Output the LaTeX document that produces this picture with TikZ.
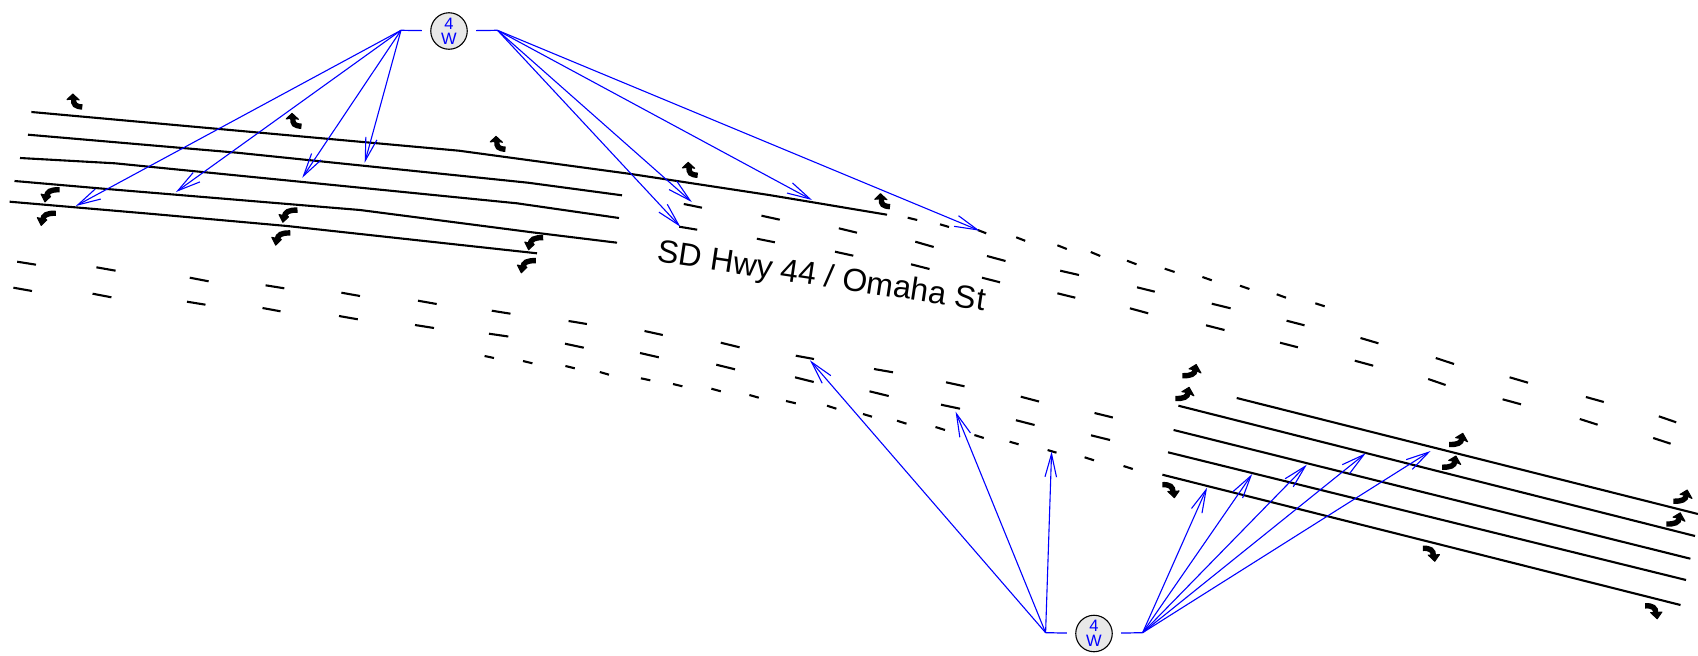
\documentclass[tikz,border=0pt]{standalone}
\usepackage{fontspec}
\setmainfont{Liberation Sans}
\usetikzlibrary{arrows.meta}
\tikzset{
  lane/.style={black,line width=2.1pt,line join=round},
  dashmark/.style={black,line width=2.1pt},
  shortmark/.style={black,line width=2.1pt},
  stub/.style={blue,line width=1.2pt,shorten >=8.3pt},
  ray/.style={blue,line width=1.1pt,-{Straight Barb[length=23pt,width=11.5pt,line width=1.1pt]}},
  signal/.style={circle,draw=black,line width=1.1pt,fill=black!9,minimum size=36.5pt,inner sep=0pt,text=blue,font=\fontsize{16.5}{15}\selectfont,align=center},
  headfill/.style={fill=black,draw=black,line width=1pt,line join=round},
  uup/.pic={
    \path[headfill] (-1.5,-8)--(-7.3,-2.4)--(-2.8,-2.8)--(2,-2.6)--(5,-2)--cycle;
    \draw[line width=5.4pt] (-0.6,-3.5) .. controls (-1.2,2.8) and (1,4.4) .. (8,5);
  },
  uleft/.pic={
    \path[headfill] (-5.3,7.6)--(-9.2,-0.2)--(-4,1)--(-1,1)--(0.3,2.2)--cycle;
    \draw[line width=5.4pt] (-4,2.5) .. controls (-3,-3) and (0,-4.6) .. (9.3,-4.6);
  },
  uright/.pic={
    \path[headfill] (4.4,-7.2)--(-2.8,-2.8)--(1,-2.2)--(4,-1.2)--(9.2,1.3)--cycle;
    \draw[line width=5.4pt] (3.4,-2) .. controls (3,2.6) and (-1,4.2) .. (-9.4,4);
  },
  udown/.pic={
    \path[headfill] (3.8,8)--(-2.8,1.8)--(1,1.6)--(4,1.6)--(8.5,1.2)--cycle;
    \draw[line width=5.4pt] (-8.2,-5) .. controls (-1,-5.4) and (2.6,-3) .. (2.4,2.5);
  }
}
\begin{document}
\begin{tikzpicture}[x=1pt,y=-1pt]
\useasboundingbox (0,0) rectangle (1698,656);

% lanes, left
\draw[lane] (31.4,112)--(459,150.7)--(631,174)--(769,195)--(887,214.7);
\draw[lane] (28,134.7)--(237,152.7)--(528,182.7)--(622,195.3);
\draw[lane] (20,158)--(115,163.3)--(517,203.3)--(619,218);
\draw[lane] (14.5,181)--(107,189)--(360,210)--(532,232.3)--(617,242.7);
\draw[lane] (9.6,201.7)--(153,214)--(287,226)--(537,253.3);
% lanes, right
\draw[lane] (1236.7,398)--(1697.9,514);
\draw[lane] (1178.4,405.7)--(1695,536);
\draw[lane] (1173.6,430)--(1690.4,558.7);
\draw[lane] (1168,452.3)--(1686,580);
\draw[lane] (1162.4,474.7)--(1680.5,605);

% long lane marks
\foreach \a/\b/\c/\d in {
17.2/261.7/36/264.7, 96.4/267.3/115.6/270.7, 189.8/277.7/208.6/281.3, 265.6/285.3/284.3/288.3,
341.4/292.7/360/296, 418/300.7/436.7/304, 491.8/310.7/510.5/313.7, 568.6/321/586.9/324,
644.5/331/662.8/335, 720.8/342.7/739.6/347.3, 795.8/355.7/814/359, 874/369/893/372.3,
946/382.3/964.5/386.3, 1020.8/396.7/1039/401.5, 1094.5/413/1112.8/417.5,
13.4/287.7/32/291, 92.6/293.7/111.4/297.3, 187/301.7/205.5/304.7, 262.5/308/280.5/311.3,
339/316/357.8/319.3, 415/325/434/328, 489/333.7/508.3/336.5, 565/343.7/583.8/347.7,
640/353/658.8/357.3, 716.3/364.7/735/369.3, 795/377.3/813.7/382, 869.5/391.3/888.7/396,
941/404.7/960/408.7, 1015.9/420.2/1034.6/425, 1091/435.3/1110/440,
683.8/204/702/207.7, 761.5/215.7/779.8/219.7, 838.8/228.3/857/232.7, 915.3/241.7/933.7/247,
987/256/1005.5/261, 1060.2/270.7/1079/275, 1137/287.3/1154.8/291.7, 1211.8/303.7/1230.6/308.3,
1286.6/320.7/1304.5/325.3, 1360.5/338/1378.4/343.3, 1435.8/358/1454/364, 1509.6/377.3/1528/382.7,
1585.9/397/1603.8/402, 1658.8/416.3/1676.2/422.3,
679.2/226.7/697.2/229.7, 756.9/238.7/774.9/242.3, 835/251.7/853.3/255.7, 911/264.3/929.5/269,
982/277.7/1000/282.3, 1057.4/293.3/1075.3/297.7, 1129.9/308.3/1148.2/313.3, 1206/325.3/1224.5/330,
1280/342.7/1297.9/347.3, 1354.8/360.7/1373.2/365.7, 1428.2/379/1445.6/385, 1502.6/399.3/1521/404.3,
1579.8/419/1597.6/424.7, 1653.2/438/1670.6/443.7}
  \draw[dashmark] (\a,\b)--(\c,\d);

% short lane marks
\foreach \a/\b/\c/\d in {
484.6/356/494/358, 523/361/532.4/363.3, 565.4/366/574.8/368.3, 599.8/372/609/374.7,
640.9/378.3/650.3/380.3, 673/384/682.4/386.3, 711.4/388.7/720.8/391.3, 749.4/395/758.8/397.7,
786/401/795.8/403.3, 827/405.7/836.4/408.7, 863/414/872/416.7, 897/420.7/906.5/423.7,
935.5/427/945/430, 974.4/435/983.8/438, 1009.6/441.7/1018.6/444.3, 1047.6/450/1056.5/452.7,
1084.6/457.3/1094/460.3, 1123.5/466/1132.8/469,
907.7/217.7/917.2/220, 940/224.3/949/227, 977.7/230/986.2/233.3, 1016.2/237.3/1025.2/240.8,
1057.4/245.3/1066.8/249, 1090.8/252/1100.2/256, 1127/260.7/1136.5/264.3, 1164.7/268.7/1174.6/272,
1202.4/277/1211.8/280.3, 1240/285.7/1249.4/289, 1276.7/294.3/1286/297.7, 1315.3/303.3/1324.7/306.3}
  \draw[shortmark] (\a,\b)--(\c,\d);

% U-turn marks
\foreach \p in {(74.3,102),(293.5,121.3),(497.5,144.3),(689.7,170.3),(882,201.7)}
  \pic at \p {uup};
\foreach \p in {(50.3,194.3),(46.5,217.8),(288.2,214.7),(281,237.5),(533.9,242.2),(526.6,265.2)}
  \pic at \p {uleft};
\foreach \p in {(1191.8,371.7),(1184.7,394.5),(1458.4,440.5),(1451.5,463.2),(1682.8,497.2),(1675.8,520)}
  \pic at \p {uright};
\foreach \p in {(1170.6,489.7),(1431,553.3),(1653.4,610.8)}
  \pic at \p {udown};

% label
\node[rotate=-8.5,font=\fontsize{32}{32}\selectfont,inner sep=0pt] (road) at (821.5,278) {SD Hwy 44 / Omaha St};

% signals
\node[signal] (sigN) at (449,31) {4\\W};
\node[signal] (sigS) at (1094,633.5) {4\\W};

% fan points
\coordinate (nw) at (401,30.3);
\coordinate (ne) at (497.5,30.3);
\coordinate (sw) at (1045.6,632.7);
\coordinate (se) at (1142.6,632.7);
\draw[stub] (nw)--(sigN);
\draw[stub] (ne)--(sigN);
\draw[stub] (sw)--(sigS);
\draw[stub] (se)--(sigS);

% rays
\foreach \n/\x/\y in {a/75.8/206,b/176/192,c/302.3/177.7,d/364.7/162.7} {
  \coordinate (t\n) at (\x,\y);
  \draw[ray] (nw)--(t\n);
}
\foreach \n/\x/\y in {e/680.3/226.7,f/691.8/202,g/812/200,h/979.6/230.7} {
  \coordinate (t\n) at (\x,\y);
  \draw[ray] (ne)--(t\n);
}
\foreach \n/\x/\y in {i/810/360.3,j/955.6/411.7,k/1051.6/451.7} {
  \coordinate (t\n) at (\x,\y);
  \draw[ray] (sw)--(t\n);
}
\foreach \n/\x/\y in {l/1207/487.7,m/1252.2/474,o/1306.8/464.7,p/1365.6/453.3,q/1430.6/451} {
  \coordinate (t\n) at (\x,\y);
  \draw[ray] (se)--(t\n);
}
\end{tikzpicture}
\end{document}
